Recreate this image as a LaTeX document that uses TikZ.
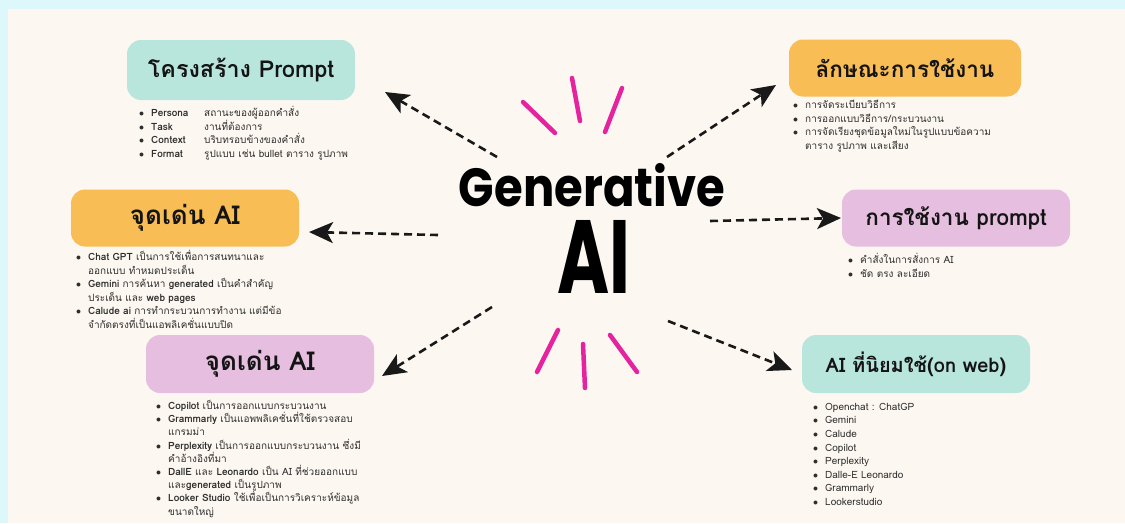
\documentclass[tikz,border=0pt]{standalone}
\usepackage{fontspec}
\usepackage{graphicx}
\usetikzlibrary{arrows.meta}
\newfontfamily\thai[Script=Thai]{Loma}
\newfontfamily\genfont{Poppins}
\definecolor{bgcream}{HTML}{FCF8F1}
\definecolor{framecyan}{HTML}{DDF8FB}
\definecolor{teal}{HTML}{B8E6DD}
\definecolor{orangebox}{HTML}{F9BD55}
\definecolor{pinkbox}{HTML}{E6BEDF}
\definecolor{magentaline}{HTML}{E6239F}
\definecolor{listgray}{HTML}{2E2E2E}
\newcommand\bul{\makebox[12pt][l]{$\bullet$}}
\newcommand\ind{\hspace*{12pt}}
\newcommand\keyw[1]{\makebox[53pt][l]{\bfseries #1}}
\newcommand\tsize[1]{\fontsize{#1}{#1}\selectfont}
\begin{document}
\begin{tikzpicture}[x=1pt,y=-1pt,
  titlebox/.style={fill=#1,rounded corners=14pt,minimum width=228pt,minimum height=57pt,
    font=\thai\bfseries,text=black!92},
  listtext/.style={anchor=north west,align=left,inner sep=0pt,
    font=\thai\fontsize{10}{13.6}\selectfont,text=listgray},
  arrowline/.style={draw=black!90,line width=2.6pt,dash pattern=on 8pt off 5pt,
    -{Stealth[length=24pt,width=21pt,inset=6pt]}},
  spark/.style={draw=magentaline,line width=4.5pt,line cap=round}]
\useasboundingbox (0,0) rectangle (1125,523);
\fill[framecyan] (0,0) rectangle (1125,523);
\fill[bgcream] (8,9) rectangle (1125,523);

% centre title
\node (gen) at (592,185) {\resizebox{266pt}{43pt}{\genfont\bfseries Generative}};
\node (ai) at (594,257) {\resizebox{73pt}{73pt}{\genfont\bfseries AI}};

% sparks
\draw[spark] (523,102) -- (555,133);
\draw[spark] (572,78) -- (580,121);
\draw[spark] (622,88) -- (605,132);
\draw[spark] (558,330) -- (537,372);
\draw[spark] (583,344) -- (585,388);
\draw[spark] (610,335) -- (637,372);

% boxes
\node[titlebox=teal,minimum height=60pt] (b1) at (241,70) {\tsize{23.3}โครงสร้าง Prompt};
\node[titlebox=orangebox,minimum width=232pt] (b2) at (905,68) {\tsize{22.5}ลักษณะการใช้งาน};
\node[titlebox=orangebox] (b3) at (185,218) {\tsize{26}จุดเด่น AI};
\node[titlebox=pinkbox] (b4) at (956,218) {\tsize{22.5}การใช้งาน prompt};
\node[titlebox=pinkbox,minimum height=58pt] (b5) at (260,364) {\tsize{26}จุดเด่น AI};
\node[titlebox=teal,minimum height=58pt] (b6) at (916,364) {\tsize{20}AI ที่นิยมใช้(on web)};

% lists
\node[listtext] (l1) at (139,106) {%
\bul\keyw{Persona}สถานะของผู้ออกคำสั่ง\\
\bul\keyw{Task}งานที่ต้องการ\\
\bul\keyw{Context}บริบทรอบข้างของคำสั่ง\\
\bul\keyw{Format}รูปแบบ เช่น bullet ตาราง รูปภาพ};

\node[listtext] (l2) at (793,100) {%
\bul การจัดระเบียบวิธีการ\\
\bul การออกแบบวิธีการ/กระบวนงาน\\
\bul การจัดเรียงชุดข้อมูลใหม่ในรูปแบบข้อความ\\
\ind ตาราง รูปภาพ และเสียง};

\node[listtext] (l3) at (76,250) {%
\bul{\bfseries Chat GPT} เป็นการใช้เพื่อการสนทนาและ\\
\ind ออกแบบ ทำหมดประเด็น\\
\bul{\bfseries Gemini} การค้นหา {\bfseries generated} เป็นคำสำคัญ\\
\ind ประเด็น และ {\bfseries web pages}\\
\bul{\bfseries Calude ai} การทำกระบวนการทำงาน แต่มีข้อ\\
\ind จำกัดตรงที่เป็นแอพลิเคชั่นแบบปิด};

\node[listtext] (l4) at (848,253) {%
\bul คำสั่งในการสั่งการ AI\\
\bul ชัด ตรง ละเอียด};

\node[listtext,font=\thai\fontsize{10}{13.2}\selectfont] (l5) at (156,400) {%
\bul{\bfseries Copilot} เป็นการออกแบบกระบวนงาน\\
\bul{\bfseries Grammarly} เป็นแอพพลิเคชั่นที่ใช้ตรวจสอบ\\
\ind แกรมม่า\\
\bul{\bfseries Perplexity} เป็นการออกแบบกระบวนงาน ซึ่งมี\\
\ind คำอ้างอิงที่มา\\
\bul{\bfseries DallE} และ {\bfseries Leonardo} เป็น AI ที่ช่วยออกแบบ\\
\ind และ{\bfseries generated} เป็นรูปภาพ\\
\bul{\bfseries Looker Studio} ใช้เพื่อเป็นการวิเคราะห์ข้อมูล\\
\ind ขนาดใหญ่};

\node[listtext] (l6) at (813,403) {%
\bul Openchat : ChatGP\\
\bul Gemini\\
\bul Calude\\
\bul Copilot\\
\bul Perplexity\\
\bul Dalle-E Leonardo\\
\bul Grammarly\\
\bul Lookerstudio};

% connectors
\coordinate (s1) at (497,157); \coordinate (t1) at (385,92);
\coordinate (s2) at (667,157); \coordinate (t2) at (776,85);
\coordinate (s3) at (438,235); \coordinate (t3) at (309,232);
\coordinate (s4) at (710,221); \coordinate (t4) at (841,218);
\coordinate (s5) at (492,307); \coordinate (t5) at (382,376);
\coordinate (s6) at (668,321); \coordinate (t6) at (792,370);
\draw[arrowline] (s1) -- (t1);
\draw[arrowline] (s2) -- (t2);
\draw[arrowline] (s3) -- (t3);
\draw[arrowline] (s4) -- (t4);
\draw[arrowline] (s5) -- (t5);
\draw[arrowline] (s6) -- (t6);
\end{tikzpicture}
\end{document}
